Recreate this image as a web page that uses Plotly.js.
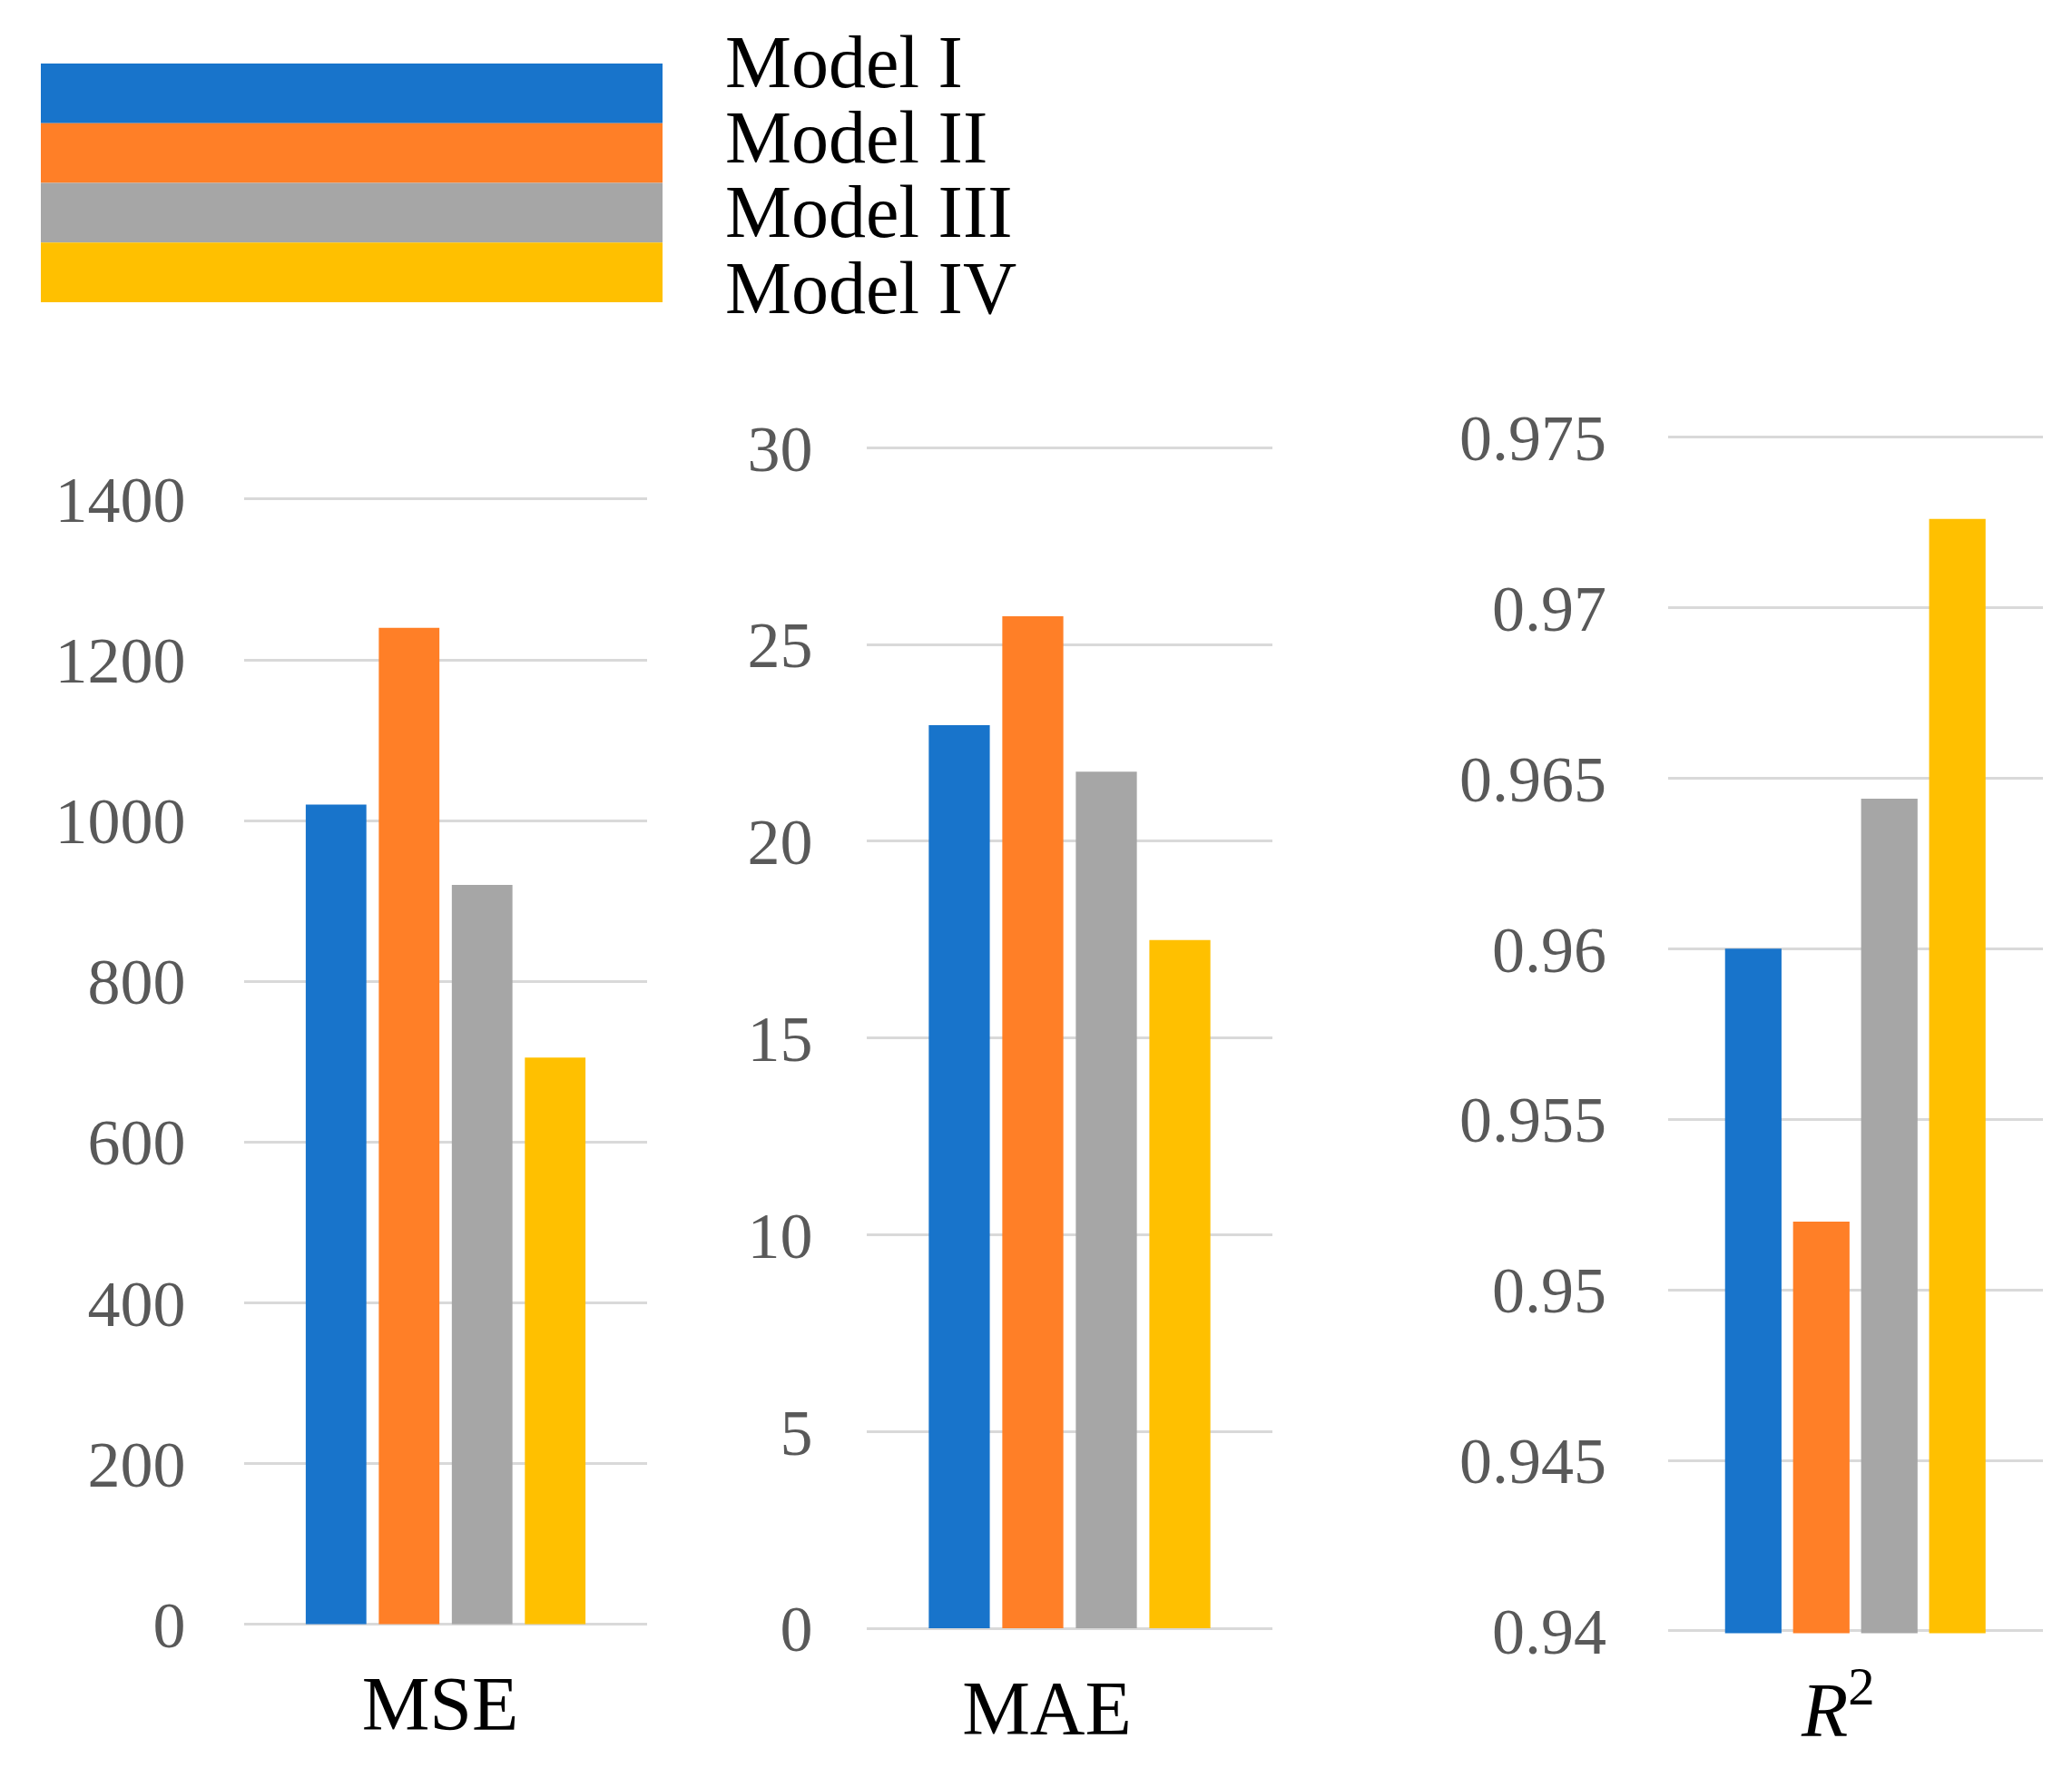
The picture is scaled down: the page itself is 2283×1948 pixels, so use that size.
<!DOCTYPE html>
<html>
<head>
<meta charset="utf-8">
<script src="https://cdn.plot.ly/plotly-3.0.1.min.js"></script>
<style>html,body{margin:0;padding:0;background:#fff;}#chart{width:2283px;height:1948px;}</style>
</head>
<body>
<div id="chart"></div>
<script>
const categories = ['MSE', 'MAE', 'R2'];
const categoryLabels = ['MSE', 'MAE', '<i>R</i><sup>2</sup>'];
const models = ['Model I', 'Model II', 'Model III', 'Model IV'];
const mse = [1020, 1240, 920, 705];
const mae = [22.95, 25.72, 21.77, 17.49];
const r2 = [0.96, 0.952, 0.9644, 0.9726];
const msTicks = [0, 200, 400, 600, 800, 1000, 1200, 1400];
const maeTicks = [0, 5, 10, 15, 20, 25, 30];
const r2Ticks = [0.94, 0.945, 0.95, 0.955, 0.96, 0.965, 0.97, 0.975];
const colors = ['#1874CB', '#FF7F27', '#A6A6A6', '#FFC000'];

const W = 2283, H = 1948;
const series = [mse, mae, r2];
const axisIds = [['x', 'y'], ['x2', 'y2'], ['x3', 'y3']];
const traces = [];
series.forEach((vals, p) => {
  vals.forEach((v, m) => {
    traces.push({
      type: 'bar',
      name: models[m],
      x: [categories[p]],
      y: [v],
      xaxis: axisIds[p][0],
      yaxis: axisIds[p][1],
      marker: {color: colors[m], line: {width: 0}},
      showlegend: false,
      hoverinfo: 'y'
    });
  });
});

const fontFam = '"Liberation Serif", "Times New Roman", serif';
function xa(domain, p, shift) {
  return {
    domain: domain, anchor: axisIds[p][1], type: 'category',
    tickvals: [categories[p]], ticktext: [categoryLabels[p]],
    showgrid: false, zeroline: false, showline: false,
    ticks: 'outside', ticklen: 12, tickcolor: 'rgba(0,0,0,0)',
    ticklabelshift: shift,
    tickfont: {family: fontFam, size: 84, color: '#000'},
    fixedrange: true
  };
}
function ya(domain, p, range, tv, standoff) {
  const span = range[1] - range[0];
  return {
    domain: domain, anchor: axisIds[p][0],
    range: [range[0] - span * 0.002, range[1] + span * 0.002],
    tickvals: tv, showgrid: true, gridcolor: '#D9D9D9', gridwidth: 3,
    zeroline: false, showline: false,
    ticks: 'outside', ticklen: standoff, tickcolor: 'rgba(0,0,0,0)',
    tickfont: {family: fontFam, size: 72, color: '#595959'},
    fixedrange: true
  };
}

const shapes = [];
const annotations = [];
const boxTop = 70, boxBottom = 333, boxL = 45, boxR = 730;
const band = (boxBottom - boxTop) / models.length;
models.forEach((m, i) => {
  shapes.push({
    type: 'rect', xref: 'paper', yref: 'paper',
    x0: boxL / W, x1: boxR / W,
    y0: 1 - (boxTop + band * (i + 1)) / H, y1: 1 - (boxTop + band * i) / H,
    fillcolor: colors[i], line: {width: 0}, layer: 'above'
  });
  annotations.push({
    xref: 'paper', yref: 'paper', x: 797 / W, y: 1 - (68 + 83 * i) / H,
    xanchor: 'left', yanchor: 'middle', showarrow: false, text: m,
    font: {family: fontFam, size: 82, color: '#000'}
  });
});

const layout = {
  width: W, height: H,
  margin: {l: 0, r: 0, t: 0, b: 0},
  paper_bgcolor: '#fff', plot_bgcolor: '#fff',
  barmode: 'group', bargap: 0.275, bargroupgap: 0.17,
  showlegend: false,
  font: {family: fontFam},
  xaxis: xa([269 / W, 713 / W], 0, -6),
  yaxis: ya([1 - 1792 / H, 1 - 547.5 / H], 0, [0, 1400], msTicks, 49),
  xaxis2: xa([955 / W, 1402 / W], 1, -25),
  yaxis2: ya([1 - 1796.7 / H, 1 - 490.7 / H], 1, [0, 30], maeTicks, 44),
  xaxis3: xa([1837.5 / W, 2251 / W], 2, -19),
  yaxis3: ya([1 - 1799.6 / H, 1 - 479 / H], 2, [0.94, 0.975], r2Ticks, 52),
  shapes: shapes,
  annotations: annotations
};

Plotly.newPlot('chart', traces, layout, {staticPlot: true, displayModeBar: false});
</script>
</body>
</html>
